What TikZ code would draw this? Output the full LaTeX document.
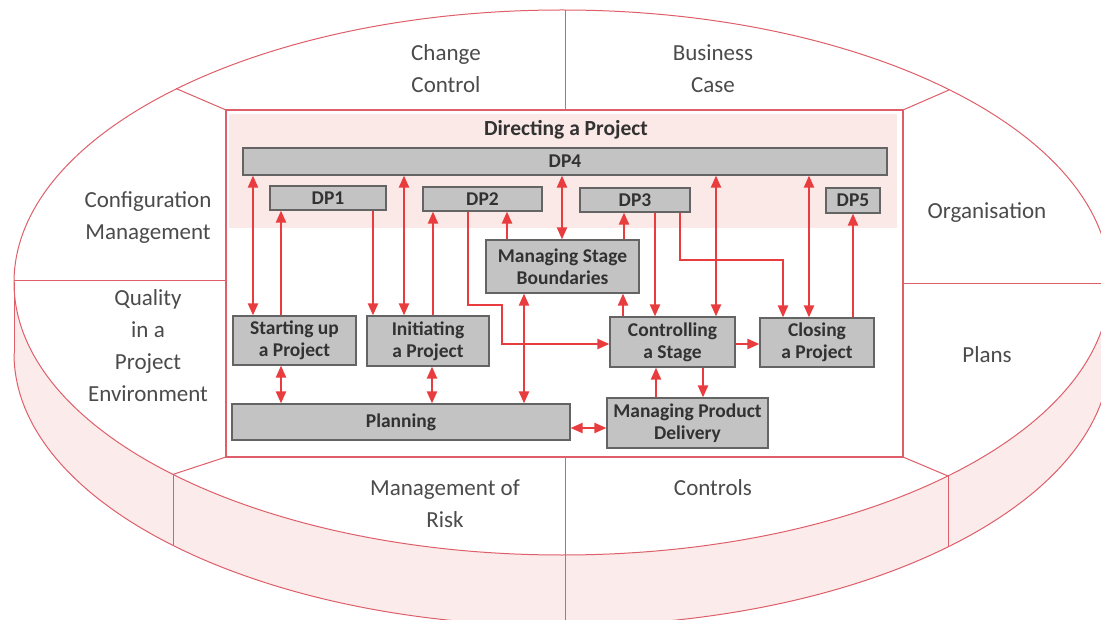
\documentclass[tikz,border=0pt]{standalone}
\usepackage{fontspec}
\setmainfont{Carlito}
\usetikzlibrary{arrows.meta}
\definecolor{ring}{RGB}{222,95,105}
\definecolor{arrred}{RGB}{232,60,62}
\definecolor{boxfill}{RGB}{195,195,195}
\definecolor{boxborder}{RGB}{100,100,100}
\definecolor{bandpink}{RGB}{250,233,231}
\definecolor{sidepink}{RGB}{251,235,235}
\definecolor{lbltext}{RGB}{75,75,75}
\definecolor{boxtext}{RGB}{50,50,50}
\begin{document}
\begin{tikzpicture}[x=1pt,y=-1pt,
  ringline/.style={draw=ring, line width=1pt},
  box/.style={draw=boxborder, fill=boxfill, line width=1.2pt, inner sep=0pt, align=center,
    font=\fontsize{19.5}{22}\selectfont\bfseries, text=boxtext},
  lbl/.style={align=center, text=lbltext, font=\fontsize{23}{32}\selectfont, inner sep=0pt},
  arr/.style={draw=arrred, line width=2.2pt, arrows={-Triangle[length=12pt,width=10pt]}},
  darr/.style={draw=arrred, line width=2.2pt, arrows={Triangle[length=12pt,width=10pt]-Triangle[length=12pt,width=10pt]}}
]
\useasboundingbox (0,0) rectangle (1101,620);
\fill[white] (0,0) rectangle (1101,620);
% cylinder side band
\fill[sidepink] (562,353.5) ellipse [x radius=548pt, y radius=272.5pt];
\fill[sidepink] (14,282.5) rectangle (1110,353.5);
\fill[white] (562,282.5) ellipse [x radius=548pt, y radius=272.5pt];
\draw[ringline] (562,282.5) ellipse [x radius=548pt, y radius=272.5pt];
\begin{scope}
  \clip (0,353.5) rectangle (1200,700);
  \draw[ringline] (562,353.5) ellipse [x radius=548pt, y radius=272.5pt];
\end{scope}
\draw[ringline] (14,282.5) -- (14,353.5);
\draw[ringline] (1110,282.5) -- (1110,353.5);
% dividers
\draw[ringline] (565,10) -- (565,110);
\draw[ringline] (565,457) -- (565,630);
\draw[ringline] (14,281) -- (226,281);
\draw[ringline] (903,284) -- (1110,284);
\draw[ringline] (226,110) -- (176,88.5);
\draw[ringline] (903,110) -- (949,90);
\draw[ringline] (226,457) -- (173,474.4);
\draw[ringline] (903,457) -- (948,476);
\draw[ringline] (173,474.4) -- (173,545.4);
\draw[ringline] (948,476) -- (948,547);
% inner frame
\fill[white] (226,110) rectangle (903,457);
\fill[bandpink] (229,114) rectangle (897,228);
\draw[draw=ring, line width=1.6pt] (226,110) rectangle (903,457);
% outer labels
\node[lbl] (cc) at (446,69) {Change\\Control};
\node[lbl] (bc) at (713,69) {Business\\Case};
\node[lbl] (cm) at (148,218) {Configuration\\Management};
\node[lbl] (org) at (987,213) {Organisation};
\node[lbl] (qpe) at (148,345.5) {Quality\\in a\\Project\\Environment};
\node[lbl] (plans) at (987,355) {Plans};
\node[lbl] (mor) at (445,504) {Management of\\Risk};
\node[lbl] (ctl) at (713,488) {Controls};
% title
\node[font=\fontsize{21.5}{24}\selectfont\bfseries, text=boxtext, inner sep=0pt] (dap) at (566,130) {Directing a Project};
% boxes
\node[box, minimum width=644pt, minimum height=27pt] (dp4) at (565,161.5) {DP4};
\node[box, minimum width=116pt, minimum height=24pt] (dp1) at (328,198) {DP1};
\node[box, minimum width=119pt, minimum height=24pt] (dp2) at (482.5,199) {DP2};
\node[box, minimum width=110pt, minimum height=24pt] (dp3) at (635,200) {DP3};
\node[box, minimum width=54pt, minimum height=25pt] (dp5) at (853,200.5) {DP5};
\node[box, minimum width=153pt, minimum height=53pt] (msb) at (562.5,266.5) {Managing Stage\\Boundaries};
\node[box, minimum width=123pt, minimum height=49pt] (sup) at (294.5,340.5) {Starting up\\a Project};
\node[box, minimum width=122pt, minimum height=50pt] (ip) at (428,341) {Initiating\\a Project};
\node[box, minimum width=338pt, minimum height=36pt] (pl) at (401,422) {Planning};
\node[box, minimum width=125pt, minimum height=50pt] (cs) at (672.5,342) {Controlling\\a Stage};
\node[box, minimum width=114pt, minimum height=49pt] (cp) at (817,342.5) {Closing\\a Project};
\node[box, minimum width=161pt, minimum height=50pt] (mpd) at (687.5,423) {Managing Product\\Delivery};
% arrows
\draw[darr] (253,0 |- dp4.south) -- (253,0 |- sup.north);
\draw[arr] (281,0 |- sup.north) -- (281,0 |- dp1.south);
\draw[arr] (373,0 |- dp1.south) -- (373,0 |- ip.north);
\draw[darr] (404,0 |- dp4.south) -- (404,0 |- ip.north);
\draw[arr] (433,0 |- ip.north) -- (433,0 |- dp2.south);
\draw[arr] (468,0 |- dp2.south) -- (468,305) -- (502,305) -- (502,344) -- (cs.west |- 0,344);
\draw[arr] (507,0 |- msb.north) -- (507,0 |- dp2.south);
\draw[darr] (562,0 |- dp4.south) -- (562,0 |- msb.north);
\draw[arr] (624,0 |- msb.north) -- (624,0 |- dp3.south);
\draw[darr] (524,0 |- msb.south) -- (524,0 |- pl.north);
\draw[arr] (623,0 |- cs.north) -- (623,0 |- msb.south);
\draw[arr] (655,0 |- dp3.south) -- (655,0 |- cs.north);
\draw[darr] (716,0 |- dp4.south) -- (716,0 |- cs.north);
\draw[arr] (680,0 |- dp3.south) -- (680,260) -- (783,260) -- (783,0 |- cp.north);
\draw[darr] (809,0 |- dp4.south) -- (809,0 |- cp.north);
\draw[arr] (853,0 |- cp.north) -- (853,0 |- dp5.south);
\draw[arr] (cs.east |- 0,344) -- (cp.west |- 0,344);
\draw[arr] (656,0 |- mpd.north) -- (656,0 |- cs.south);
\draw[arr] (703,0 |- cs.south) -- (703,0 |- mpd.north);
\draw[darr] (281,0 |- sup.south) -- (281,0 |- pl.north);
\draw[darr] (432,0 |- ip.south) -- (432,0 |- pl.north);
\draw[darr] (pl.east |- 0,428) -- (mpd.west |- 0,428);
\end{tikzpicture}
\end{document}
